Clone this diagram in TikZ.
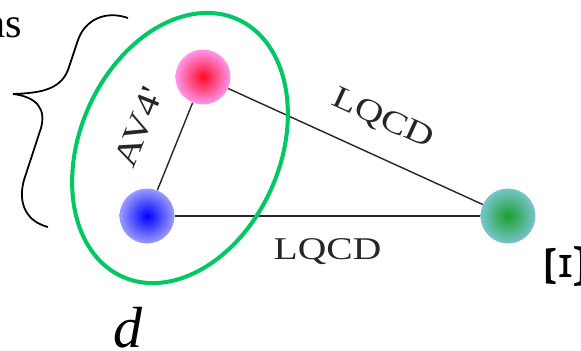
\documentclass[tikz,border=0pt]{standalone}
\usepackage{fontspec}
\setmainfont{Liberation Serif}
\newfontfamily\widefont[FakeStretch=1.25]{Liberation Serif}
\usetikzlibrary{positioning}
\definecolor{ringC}{RGB}{0,200,100}
\definecolor{redcore}{RGB}{255,10,40}
\definecolor{redhalo}{RGB}{255,150,235}
\definecolor{bluecore}{RGB}{0,0,255}
\definecolor{bluehalo}{RGB}{155,155,255}
\definecolor{greencore}{RGB}{25,160,45}
\definecolor{greenhalo}{RGB}{120,196,204}

\begin{document}
\begin{tikzpicture}[
  ball/.style={circle,minimum size=1.1cm,inner sep=0pt},
  bond/.style={line width=0.8pt,black!85},
  bondlab/.style={font=\widefont\fontsize{18}{21}\selectfont,inner sep=0pt,sloped}]
  \useasboundingbox (0,0) rectangle (11.62,7.0);

  % the three quarks
  \node[ball,inner color=redcore,outer color=redhalo] (qr) at (4.06,5.46) {};
  \node[ball,inner color=bluecore,outer color=bluehalo] (qb) at (2.94,2.68) {};
  \node[ball,inner color=greencore,outer color=greenhalo] (qg) at (10.16,2.68) {};

  % interactions
  \draw[bond] (qb) -- (qr) node[bondlab,font=\widefont\fontsize{19}{22}\selectfont,
    pos=0.55,above=0.58cm] {AV4'};
  \draw[bond] (qr) -- (qg) node[bondlab,pos=0.55,above=0.45cm] {LQCD};
  \draw[bond] (qb) -- (qg) node[bondlab,midway,below=0.44cm] {LQCD};

  % deuteron pair
  \draw[ringC,line width=2.3pt,rotate around={-24:(3.6,4.04)}]
    (3.6,4.04) ellipse (2.0cm and 2.82cm);
  \node[font=\fontsize{33}{36}\selectfont\itshape,anchor=base,inner sep=0pt]
    (dlab) at (2.56,0.06) {d};

  % brace on the left
  \draw[line width=1pt]
    (2.56,6.64) .. controls (2.10,6.80) and (1.70,6.60) .. (1.56,6.20)
    -- (1.36,5.60) .. controls (1.20,5.20) and (0.80,5.14) .. (0.26,5.12)
    .. controls (0.76,5.06) and (0.92,4.80) .. (0.82,4.44)
    -- (0.48,3.40) .. controls (0.34,2.90) and (0.56,2.56) .. (0.96,2.46);
  \node[font=\fontsize{24}{28}\selectfont,anchor=base east,inner sep=0pt]
    (grp) at (0.44,6.26) {ns};

  % Xi label
  \node[font=\widefont\fontsize{34}{38}\selectfont,rotate=90,inner sep=0pt,
    anchor=north] (xilab) at (10.92,1.67) {Ξ};
\end{tikzpicture}
\end{document}
